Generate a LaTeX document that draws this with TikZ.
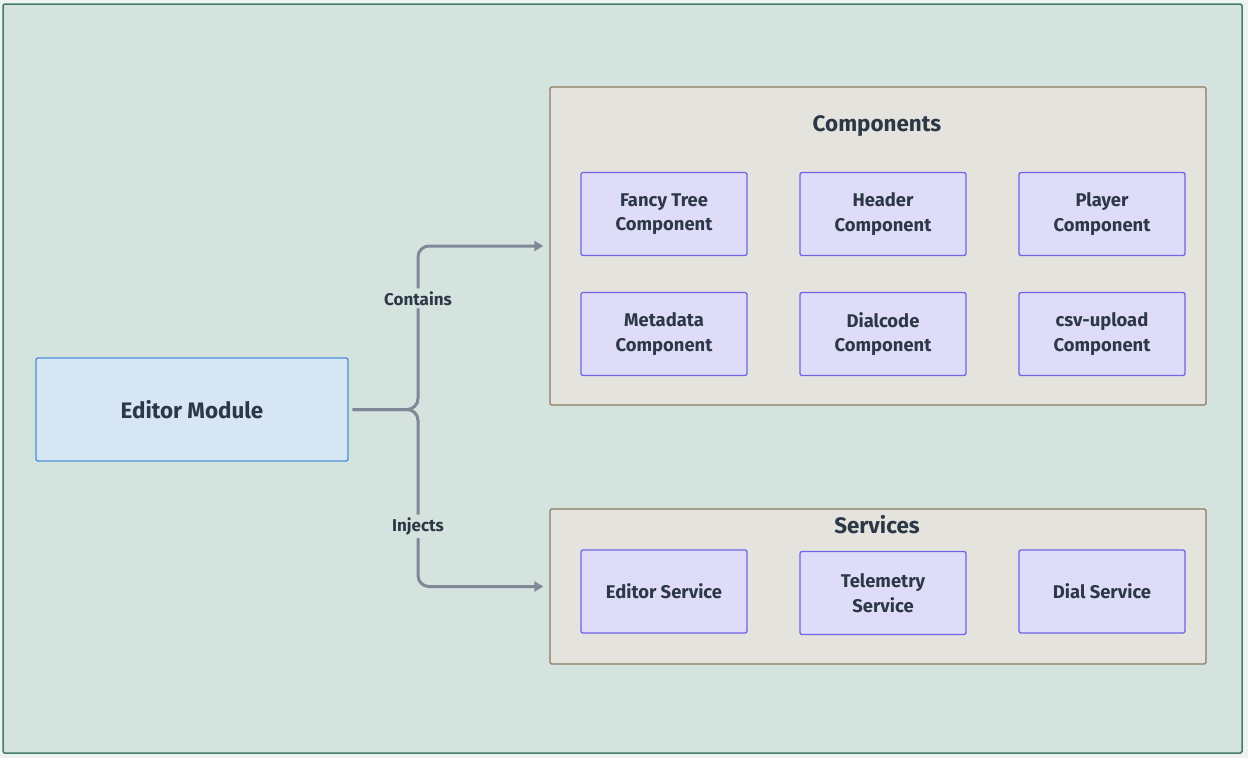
\documentclass[tikz,border=0pt]{standalone}
\usepackage{fontspec}
\setmainfont{Fira Sans}
\usetikzlibrary{arrows.meta}
\definecolor{pagebg}{HTML}{EEF3F2}
\definecolor{framefill}{HTML}{D5E3DF}
\definecolor{framedraw}{HTML}{447D6C}
\definecolor{modfill}{HTML}{D7E6F3}
\definecolor{moddraw}{HTML}{4A8FD8}
\definecolor{grpfill}{HTML}{E4E3DE}
\definecolor{grpdraw}{HTML}{8A7A62}
\definecolor{itemfill}{HTML}{DEDCF8}
\definecolor{itemdraw}{HTML}{6D64E6}
\definecolor{txt}{HTML}{2C3845}
\definecolor{edge}{HTML}{7E8896}
\tikzset{
  frame/.style={draw=framedraw, fill=framefill, line width=1.5pt, rounded corners=1.5pt},
  module/.style={draw=moddraw, fill=modfill, line width=1.3pt, rounded corners=2pt, text=txt, font=\bfseries\fontsize{22.4}{26}\selectfont},
  group/.style={draw=grpdraw, fill=grpfill, line width=1.3pt, rounded corners=1.5pt},
  grptitle/.style={text=txt, font=\bfseries\fontsize{22.4}{26}\selectfont},
  item/.style={draw=itemdraw, fill=itemfill, line width=1.3pt, rounded corners=2pt, text=txt, align=center, minimum width=166pt, minimum height=83pt, font=\bfseries\fontsize{18.4}{24.5}\selectfont},
  link/.style={draw=edge, line width=3pt, rounded corners=11pt, -{Triangle[length=9pt,width=10pt]}, shorten >=6pt},
  lbl/.style={fill=framefill, text=txt, inner sep=3pt, font=\bfseries\fontsize{17}{20}\selectfont}
}
\begin{document}
\begin{tikzpicture}[x=1pt,y=-1pt]
\useasboundingbox (0,0) rectangle (1248,758);
\fill[pagebg] (0,0) rectangle (1248,758);
\draw[frame] (3,4) rectangle (1242,753);
% module
\node[module, minimum width=312pt, minimum height=103pt] (em) at (192,409.5) {Editor Module};
% components group
\node[group, minimum width=656pt, minimum height=318pt] (comp) at (878,246) {};
\node[grptitle] (comptitle) at (877,126.5) {Components};
\node[item] (ft) at (664,214) {Fancy Tree\\Component};
\node[item] (hd) at (883,214) {Header\\Component};
\node[item] (pl) at (1102,214) {Player\\Component};
\node[item] (md) at (664,334) {Metadata\\Component};
\node[item] (dc) at (883,334) {Dialcode\\Component};
\node[item] (cu) at (1102,334) {csv-upload\\Component};
% services group
\node[group, minimum width=656pt, minimum height=155pt] (serv) at (878,586.5) {};
\node[grptitle] (servtitle) at (877,525) {Services};
\node[item] (es) at (664,591.5) {Editor Service};
\node[item] (ts) at (883,593) {Telemetry\\Service};
\node[item] (ds) at (1102,591.5) {Dial Service};
% connectors
\draw[link] ([xshift=4pt]em.east) -- (418,409.5) |- node[lbl, pos=0.34] {Contains} (comp.west);
\draw[link] ([xshift=4pt]em.east) -- (418,409.5) |- node[lbl, pos=0.33] {Injects} (serv.west);
\end{tikzpicture}
\end{document}
